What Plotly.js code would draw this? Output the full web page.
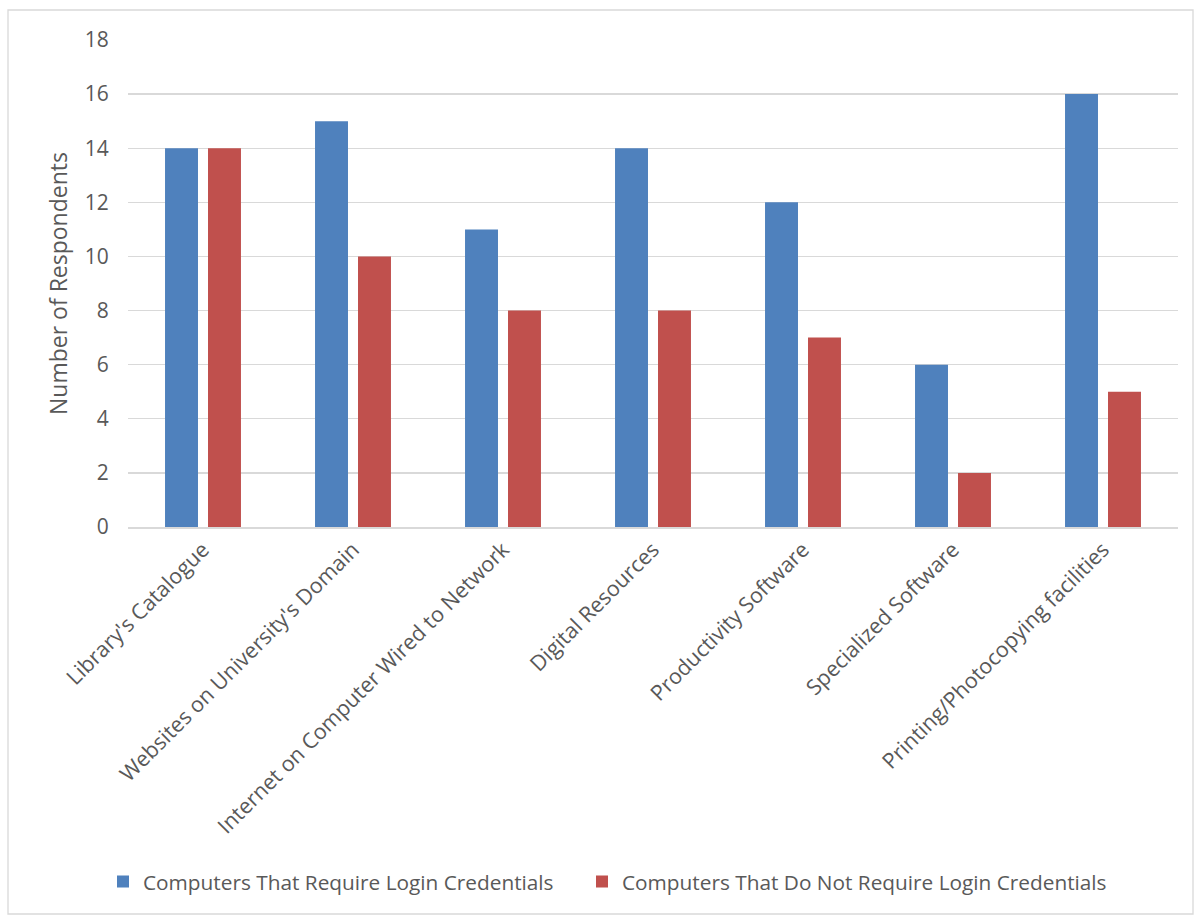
<!DOCTYPE html>
<html>
<head>
<meta charset="utf-8">
<script src="https://cdn.plot.ly/plotly-3.0.1.min.js"></script>
<style>
html,body{margin:0;padding:0;background:#fff;}
#chart{width:1194px;height:915px;}
</style>
</head>
<body>
<div id="chart"></div>
<script>
const categories = [
  "Library's Catalogue",
  "Websites on University's Domain",
  "Internet on Computer Wired to Network",
  "Digital Resources",
  "Productivity Software",
  "Specialized Software",
  "Printing/Photocopying facilities"
];
const seriesNames = [
  "Computers That Require Login Credentials",
  "Computers That Do Not Require Login Credentials"
];
const requireLogin = [14, 15, 11, 14, 12, 6, 16];
const noLogin = [14, 10, 8, 8, 7, 2, 5];
const yTicks = [0, 2, 4, 6, 8, 10, 12, 14, 16, 18];

const font = "'Open Sans', Lato, sans-serif";
const textColor = "#595959";

const traces = [
  {type: "bar", name: seriesNames[0], x: categories, y: requireLogin,
   marker: {color: "#4F81BD"}, legend: "legend"},
  {type: "bar", name: seriesNames[1], x: categories, y: noLogin,
   marker: {color: "#C0504D"}, legend: "legend2"}
];

const W = 1194, H = 915;
const L = 128, R = 16, T = 40, B = 388;
const pw = W - L - R, ph = H - T - B;
const legY = (H - 882 - B) / ph;
const legFont = {family: font, size: 20.8, color: textColor};

const layout = {
  width: W, height: H,
  margin: {l: L, r: R, t: T, b: B, pad: 0},
  paper_bgcolor: "#fff", plot_bgcolor: "#fff",
  font: {family: font, color: textColor, size: 20},
  barmode: "group",
  bargap: 0.427,
  bargroupgap: 0.233,
  showlegend: true,
  legend: {
    orientation: "h", x: (103 - L) / pw, xanchor: "left", y: legY, yanchor: "middle",
    font: legFont, itemwidth: 30, bgcolor: "rgba(0,0,0,0)"
  },
  legend2: {
    orientation: "h", x: (582 - L) / pw, xanchor: "left", y: legY, yanchor: "middle",
    font: legFont, itemwidth: 30, bgcolor: "rgba(0,0,0,0)"
  },
  xaxis: {
    tickangle: -45,
    tickfont: {family: font, size: 21.5, color: textColor},
    showgrid: false, showline: true, linecolor: "#D9D9D9", linewidth: 1.5,
    ticks: "", zeroline: false, automargin: false
  },
  yaxis: {
    range: [0, 18],
    tickvals: yTicks,
    tickfont: {family: font, size: 21, color: textColor},
    showgrid: true, gridcolor: "#D9D9D9", gridwidth: 1.3,
    zeroline: false, showline: false,
    ticks: "outside", ticklen: 14, tickcolor: "rgba(0,0,0,0)",
    title: {text: "Number of Respondents", font: {family: font, size: 23, color: textColor}, standoff: 10},
    automargin: false
  },
  shapes: [{
    type: "rect", xref: "paper", yref: "paper",
    x0: (8 - L) / pw, x1: (1193 - L) / pw,
    y0: (H - B - 914) / ph, y1: (H - B - 10) / ph,
    line: {color: "#D9D9D9", width: 1.3}, fillcolor: "rgba(0,0,0,0)", layer: "below"
  }]
};

Plotly.newPlot("chart", traces, layout, {displayModeBar: false, staticPlot: true});
</script>
</body>
</html>
